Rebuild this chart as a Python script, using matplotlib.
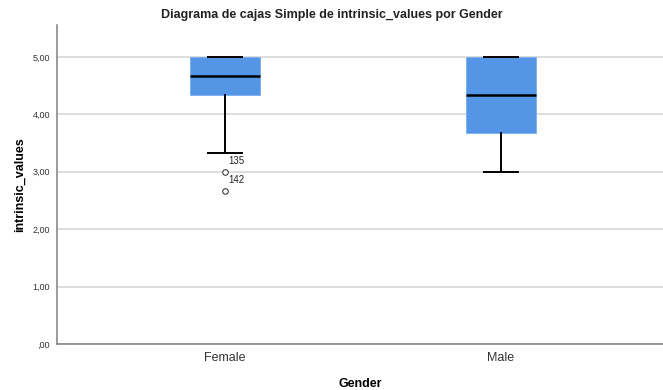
import matplotlib
matplotlib.use("Agg")
import matplotlib.pyplot as plt
from matplotlib.ticker import FuncFormatter

plt.rcParams['font.family'] = ['Liberation Sans', 'DejaVu Sans']

# Box statistics per gender group
groups = ["Female", "Male"]
whisker_low = [3.333, 3.0]
q1 = [4.333, 3.667]
medians = [4.667, 4.333]
q3 = [5.0, 5.0]
whisker_high = [5.0, 5.0]
outlier_values = [[3.0, 2.667], []]
outlier_ids = [["135", "142"], []]

stats = []
for i, g in enumerate(groups):
    stats.append(dict(label=g, whislo=whisker_low[i], q1=q1[i], med=medians[i],
                      q3=q3[i], whishi=whisker_high[i], fliers=outlier_values[i]))

fig = plt.figure(figsize=(6.63, 3.90), dpi=100)
ax = fig.add_axes([57 / 663, 46 / 390, 606 / 663, 319 / 390])

positions = [1, 2]
ax.bxp(stats, positions=positions, widths=0.254, patch_artist=True,
       boxprops=dict(facecolor="#5595e5", edgecolor="#7aaef0", linewidth=0.6),
       medianprops=dict(color="black", linewidth=1.8),
       whiskerprops=dict(color="black", linewidth=1.4),
       capprops=dict(color="black", linewidth=1.4),
       capwidths=0.125,
       flierprops=dict(marker="o", markersize=4, markerfacecolor="white",
                       markeredgecolor="#222222", markeredgewidth=0.7),
       zorder=3)

for pos, vals, ids in zip(positions, outlier_values, outlier_ids):
    for v, t in zip(vals, ids):
        ax.annotate(t, (pos, v), xytext=(2, 4.5), textcoords="offset points",
                    fontsize=7, color="#222222", ha="left", va="bottom")

ax.set_xlim(0.391, 2.587)
ax.set_ylim(0, 5.557)
ax.set_yticks([0, 1, 2, 3, 4, 5])
ax.yaxis.set_major_formatter(FuncFormatter(
    lambda v, p: ",00" if v == 0 else f"{v:.2f}".replace(".", ",")))
ax.set_xticks(positions)
ax.set_xticklabels(groups)
ax.tick_params(axis="y", length=0, labelsize=6.5, labelcolor="#333333", pad=5)
ax.tick_params(axis="x", length=0, labelsize=9, labelcolor="#333333", pad=6)

ax.yaxis.grid(True, color="#d3d3d3", linewidth=1.1, zorder=0)
ax.set_axisbelow(True)
for s in ["top", "right"]:
    ax.spines[s].set_visible(False)
for s in ["left", "bottom"]:
    ax.spines[s].set_color("#808080")
    ax.spines[s].set_linewidth(1.1)

ax.set_ylabel("intrinsic_values", fontsize=9, fontweight="bold", labelpad=5)
ax.set_xlabel("Gender", fontsize=9, fontweight="bold", labelpad=10)
fig.text(0.5, 1 - 15 / 390, "Diagrama de cajas Simple de intrinsic_values por Gender",
         ha="center", va="center", fontsize=9, fontweight="bold", color="#222222")

fig.savefig("out.png", dpi=100)
